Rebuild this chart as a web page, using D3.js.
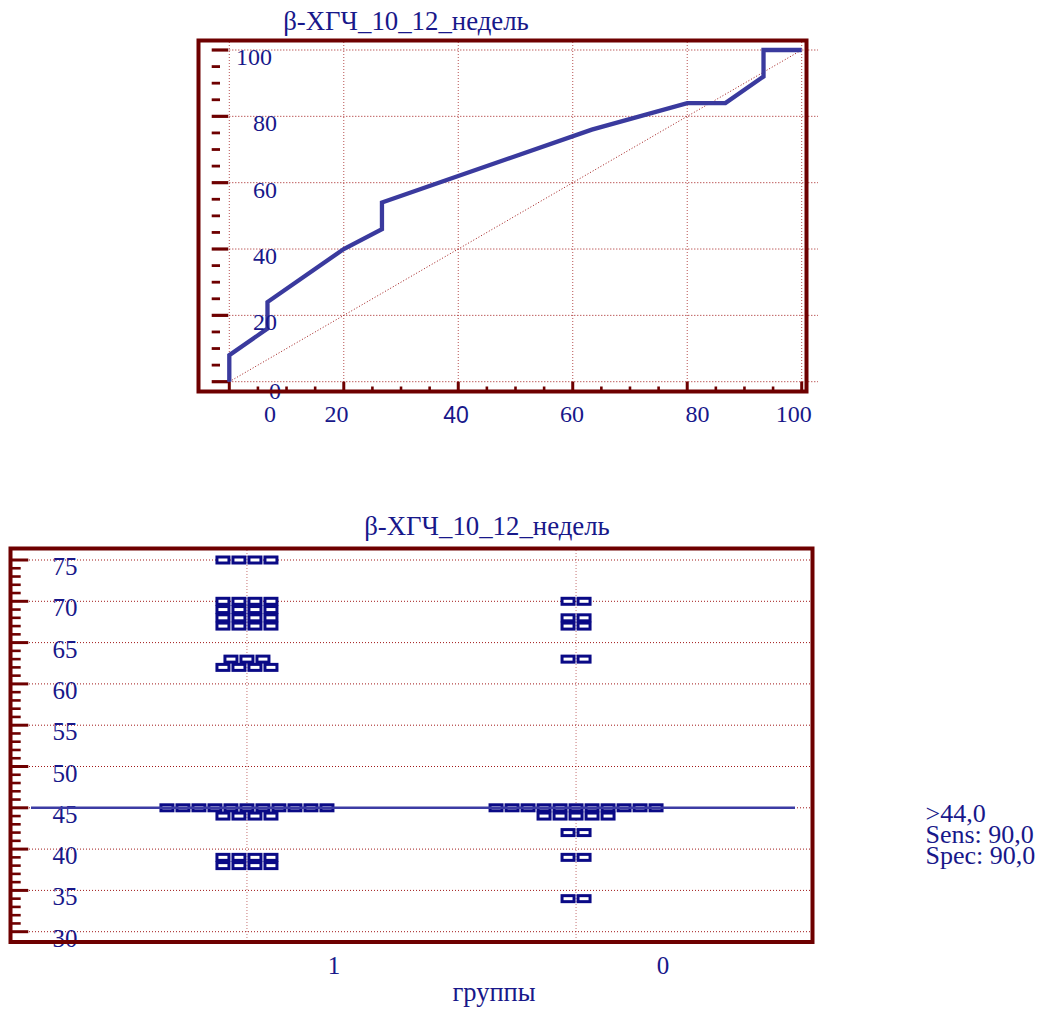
<!DOCTYPE html>
<html><head><meta charset="utf-8">
<script src="https://cdn.jsdelivr.net/npm/d3@7"></script>
<style>body{margin:0;background:#fff}svg{display:block}text{font-family:"Liberation Serif","Times New Roman",serif;fill:#18188a}</style>
</head><body>
<script>
// ---------- data ----------
const chartTitle = "β-ХГЧ_10_12_недель";
// ROC curve (100-Specificity, Sensitivity)
const rocFpr = [0, 0, 6.67, 6.67, 20, 26.67, 26.67, 63.33, 80, 86.67, 93.33, 93.33, 100];
const rocTpr = [0, 8, 16, 24, 40, 46, 54, 76, 84, 84, 92, 100, 100];
const rocTicks = [0, 20, 40, 60, 80, 100];
// dot plot
const groups = ["1", "0"];
const group1Values = [75, 70, 69, 68, 67, 63, 62, 45, 44, 39, 38];
const group1Counts = [4, 4, 4, 4, 4, 3, 4, 11, 4, 4, 4];
const group0Values = [70, 68, 67, 63, 45, 44, 42, 39, 34];
const group0Counts = [2, 2, 2, 2, 11, 5, 2, 2, 2];
const dotTicks = [30, 35, 40, 45, 50, 55, 60, 65, 70, 75];
const cutoffLineAt = 45;
const cutoffText = [">44,0", "Sens: 90,0", "Spec: 90,0"];
const xAxisTitle = "группы";

// ---------- styles ----------
const FRAME = "#6e0000", GRID = "#a01818", CURVE = "#3a3a9e", BOX = "#0a0a86";

const svg = d3.select("body").append("svg").attr("width", 1045).attr("height", 1010);
svg.append("rect").attr("width", 1045).attr("height", 1010).attr("fill", "#fff");

// ================= ROC chart =================
const rx = d3.scaleLinear().domain([0, 100]).range([229.3, 801.7]);
const ry = d3.scaleLinear().domain([0, 100]).range([381.7, 50]);
const gTop = svg.append("g");

gTop.selectAll(".hg").data(rocTicks).join("line")
  .attr("x1", rx(0)).attr("x2", 818).attr("y1", d => ry(d)).attr("y2", d => ry(d))
  .attr("stroke", GRID).attr("stroke-width", 1).attr("stroke-dasharray", "1,2");
gTop.selectAll(".vg").data(rocTicks).join("line")
  .attr("x1", d => rx(d)).attr("x2", d => rx(d)).attr("y1", 42).attr("y2", 390)
  .attr("stroke", GRID).attr("stroke-width", 1).attr("stroke-dasharray", "1,2").attr("opacity", 0.75);
gTop.append("line").attr("x1", rx(0)).attr("y1", ry(0)).attr("x2", rx(100)).attr("y2", ry(100))
  .attr("stroke", GRID).attr("stroke-width", 1).attr("stroke-dasharray", "1,2");

const minor5 = d3.range(0, 101, 5);
gTop.selectAll(".yt").data(minor5).join("line")
  .attr("x1", 211.7).attr("x2", d => d % 20 === 0 ? 228.3 : 220)
  .attr("y1", d => ry(d)).attr("y2", d => ry(d))
  .attr("stroke", FRAME).attr("stroke-width", d => d % 20 === 0 ? 3.2 : 2.8);
gTop.selectAll(".xt").data(minor5).join("line")
  .attr("x1", d => rx(d)).attr("x2", d => rx(d))
  .attr("y1", 391).attr("y2", d => d % 20 === 0 ? 381.7 : 386.5)
  .attr("stroke", FRAME).attr("stroke-width", d => d % 20 === 0 ? 3 : 2.6);

gTop.append("path").datum(rocFpr.map((f, i) => [f, rocTpr[i]]))
  .attr("d", d3.line().x(d => rx(d[0])).y(d => ry(d[1])))
  .attr("fill", "none").attr("stroke", CURVE).attr("stroke-width", 4.3).attr("stroke-linejoin", "miter");

const yNudge = {100: 254, 0: 275};
gTop.selectAll(".yl").data(rocTicks).join("text")
  .attr("x", d => yNudge[d] !== undefined ? yNudge[d] : 265)
  .attr("y", d => ry(d) + (d === 0 ? 17 : 15))
  .attr("text-anchor", "middle").attr("font-size", 24).text(d => d);
const xNudge = {0: 40.7, 20: -7.3, 40: -2.3, 60: -0.7, 80: 10.3, 100: -8};
gTop.selectAll(".xl").data(rocTicks).join("text")
  .attr("x", d => rx(d) + xNudge[d]).attr("y", d => d === 40 ? 423 : 421.7)
  .attr("text-anchor", "middle")
  .attr("font-size", d => d === 40 ? 23 : 24)
  .style("font-family", d => d === 40 ? "'Liberation Sans', Arial, sans-serif" : null)
  .text(d => d);

gTop.append("rect").attr("x", 198.5).attr("y", 40.5).attr("width", 608).attr("height", 351)
  .attr("fill", "none").attr("stroke", FRAME).attr("stroke-width", 4);
gTop.append("text").attr("x", 406).attr("y", 30).attr("text-anchor", "middle")
  .attr("font-size", 26.8).text(chartTitle);

// ================= Dot plot =================
const dy = d3.scaleLinear().domain([30, 75]).range([931.7, 560]);
const dx = d3.scalePoint().domain(groups).range([10, 813]).padding(0.72);
const gBot = svg.append("g");

gBot.selectAll(".hg").data(dotTicks).join("line")
  .attr("x1", 29).attr("x2", 812).attr("y1", d => dy(d)).attr("y2", d => dy(d))
  .attr("stroke", GRID).attr("stroke-width", 1).attr("stroke-dasharray", "1,2");
gBot.selectAll(".vg").data(groups).join("line")
  .attr("x1", d => dx(d)).attr("x2", d => dx(d)).attr("y1", 550).attr("y2", 941)
  .attr("stroke", GRID).attr("stroke-width", 1).attr("stroke-dasharray", "1,2").attr("opacity", 0.6);

gBot.selectAll(".yt").data(d3.range(30, 76, 1)).join("line")
  .attr("x1", 10).attr("x2", d => d % 5 === 0 ? 28.3 : 20.7)
  .attr("y1", d => dy(d)).attr("y2", d => dy(d))
  .attr("stroke", FRAME).attr("stroke-width", d => d % 5 === 0 ? 3 : 2.6);

gBot.selectAll(".yl").data(dotTicks).join("text")
  .attr("x", 65).attr("y", d => dy(d) + 15).attr("text-anchor", "middle")
  .attr("font-size", 25).text(d => d);

const PITCH = 16;
function boxes(g, values, counts) {
  const pts = [];
  values.forEach((v, i) => {
    const n = counts[i];
    for (let k = 0; k < n; k++) pts.push({g: g, v: v, off: (k - (n - 1) / 2) * PITCH});
  });
  return pts;
}
const allPts = boxes("1", group1Values, group1Counts).concat(boxes("0", group0Values, group0Counts));
gBot.selectAll(".bx").data(allPts).join("rect")
  .attr("x", d => dx(d.g) + d.off - 6).attr("y", d => dy(d.v) - 3)
  .attr("width", 12).attr("height", 6)
  .attr("fill", "#fff").attr("stroke", BOX).attr("stroke-width", 3);

gBot.append("line").attr("x1", 31).attr("x2", 795).attr("y1", dy(cutoffLineAt)).attr("y2", dy(cutoffLineAt))
  .attr("stroke", "#3c3ca4").attr("stroke-width", 2.4);

gBot.append("rect").attr("x", 10.5).attr("y", 548.5).attr("width", 802).attr("height", 393.5)
  .attr("fill", "none").attr("stroke", FRAME).attr("stroke-width", 4);

gBot.append("text").attr("x", 487).attr("y", 535).attr("text-anchor", "middle")
  .attr("font-size", 26.8).text(chartTitle);
gBot.selectAll(".cl").data(groups).join("text")
  .attr("x", d => dx(d) + 87).attr("y", 974).attr("text-anchor", "middle")
  .attr("font-size", 25).text(d => d);
gBot.append("text").attr("x", 494).attr("y", 1001).attr("text-anchor", "middle")
  .attr("font-size", 26.5).text(xAxisTitle);

gBot.selectAll(".ct").data(cutoffText).join("text")
  .attr("x", 925.5).attr("y", (d, i) => 821.5 + i * 21)
  .attr("font-size", 26).text(d => d);
</script>
</body></html>
